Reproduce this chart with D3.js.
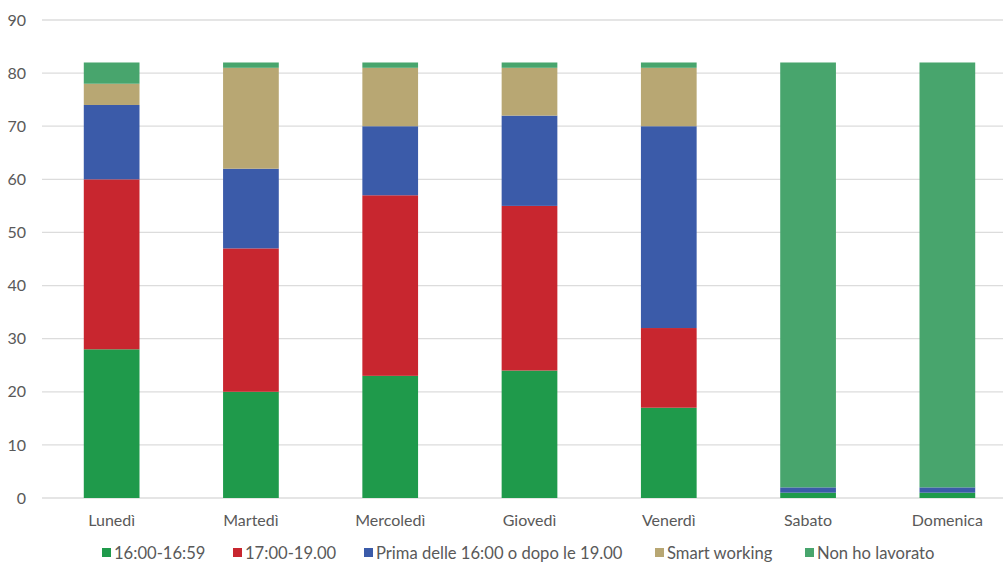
<!DOCTYPE html>
<html>
<head>
<meta charset="utf-8">
<script src="https://cdn.jsdelivr.net/npm/d3@7"></script>
<style>
  html, body { margin: 0; padding: 0; background: #fff; }
  svg { display: block; }
  text { font-family: Lato, "Open Sans", sans-serif; fill: #595959; }
</style>
</head>
<body>
<svg id="chart" width="1003" height="566"></svg>
<script>
// Days of the week (x categories)
const days = ["Lunedì", "Martedì", "Mercoledì", "Giovedì", "Venerdì", "Sabato", "Domenica"];

// Series names, bottom to top of each stack
const seriesNames = ["16:00-16:59", "17:00-19.00", "Prima delle 16:00 o dopo le 19.00", "Smart working", "Non ho lavorato"];
const seriesColors = ["#1f9a4b", "#c8262f", "#3b5ba9", "#b8a773", "#48a56d"];

// Values per series, one per day
const s1600 = [28, 20, 23, 24, 17, 1, 1];
const s1700 = [32, 27, 34, 31, 15, 0, 0];
const sPrima = [14, 15, 13, 17, 38, 1, 1];
const sSmart = [4, 19, 11, 9, 11, 0, 0];
const sNonLav = [4, 1, 1, 1, 1, 80, 80];

const yTicks = [0, 10, 20, 30, 40, 50, 60, 70, 80, 90];

const seriesValues = [s1600, s1700, sPrima, sSmart, sNonLav];
const rows = days.map((d, i) => {
  const r = { day: d };
  seriesNames.forEach((s, k) => { r[s] = seriesValues[k][i]; });
  return r;
});

const svg = d3.select("#chart");
const plotLeft = 42, plotRight = 1017, plotTop = 20, plotBottom = 498;

const x = d3.scaleBand().domain(days).range([plotLeft, plotRight]).paddingInner(0.6).paddingOuter(0.3);
const y = d3.scaleLinear().domain([0, 90]).range([plotBottom, plotTop]);

// Gridlines
svg.append("g")
  .selectAll("line")
  .data(yTicks)
  .join("line")
  .attr("x1", plotLeft).attr("x2", 1003)
  .attr("y1", d => y(d)).attr("y2", d => y(d))
  .attr("stroke", "#dcdcdc").attr("stroke-width", 1.3);

// Y axis labels
const yAxis = d3.axisLeft(y).tickValues(yTicks).tickSize(0).tickPadding(0);
const gy = svg.append("g").attr("transform", "translate(26,0)").call(yAxis);
gy.select(".domain").remove();
gy.selectAll("text").style("font-size", "16px").attr("fill", "#595959")
  .style("font-family", "Lato, 'Open Sans', sans-serif");

// Stacked bars
const stack = d3.stack().keys(seriesNames);
const layers = stack(rows);

svg.append("g")
  .selectAll("g")
  .data(layers)
  .join("g")
  .attr("fill", (d, i) => seriesColors[i])
  .selectAll("rect")
  .data(d => d)
  .join("rect")
  .attr("x", d => x(d.data.day))
  .attr("width", x.bandwidth())
  .attr("y", d => y(d[1]))
  .attr("height", d => y(d[0]) - y(d[1]));

// X axis labels
const xAxis = d3.axisBottom(x).tickSize(0).tickPadding(0);
const gx = svg.append("g").attr("transform", `translate(0,${plotBottom + 17})`).call(xAxis);
gx.select(".domain").remove();
gx.selectAll("text").style("font-size", "16px").attr("fill", "#595959")
  .style("font-family", "Lato, 'Open Sans', sans-serif");

// Legend
const legendX = [102, 233, 364, 655, 805];
const legend = svg.append("g")
  .selectAll("g")
  .data(seriesNames)
  .join("g")
  .attr("transform", (d, i) => `translate(${legendX[i]},553)`);
legend.append("rect")
  .attr("x", 0).attr("y", -5).attr("width", 9).attr("height", 9)
  .attr("fill", (d, i) => seriesColors[i]);
legend.append("text")
  .attr("x", 12).attr("y", 0).attr("dy", "0.35em")
  .style("font-size", "16.6px")
  .text(d => d);
</script>
</body>
</html>
